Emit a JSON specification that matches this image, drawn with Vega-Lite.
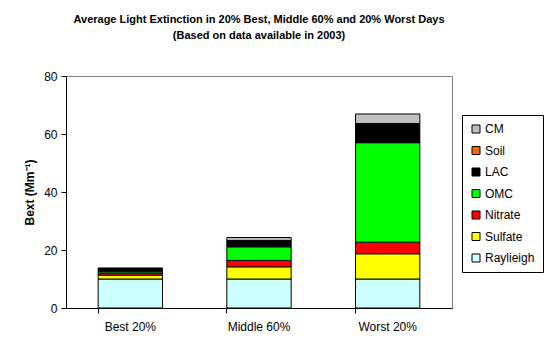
{
  "$schema": "https://vega.github.io/schema/vega-lite/v6.json",
  "width": 386,
  "height": 232,
  "autosize": {"type": "none"},
  "padding": {"left": 66, "top": 76, "right": 93, "bottom": 47},
  "background": "white",
  "title": {
    "text": ["Average Light Extinction in 20% Best, Middle 60% and 20% Worst Days", "(Based on data available in 2003)"],
    "font": "Liberation Sans",
    "fontSize": 11,
    "fontWeight": "bold",
    "color": "black",
    "lineHeight": 16,
    "anchor": "middle",
    "offset": 29
  },
  "data": {
    "values": [
      {"period": "Best 20%", "species": "Raylieigh", "ord": 1, "bext": 10},
      {"period": "Best 20%", "species": "Sulfate", "ord": 2, "bext": 1.3},
      {"period": "Best 20%", "species": "Nitrate", "ord": 3, "bext": 0.8},
      {"period": "Best 20%", "species": "OMC", "ord": 4, "bext": 0.6},
      {"period": "Best 20%", "species": "LAC", "ord": 5, "bext": 0.8},
      {"period": "Best 20%", "species": "Soil", "ord": 6, "bext": 0.1},
      {"period": "Best 20%", "species": "CM", "ord": 7, "bext": 0.2},
      {"period": "Middle 60%", "species": "Raylieigh", "ord": 1, "bext": 10},
      {"period": "Middle 60%", "species": "Sulfate", "ord": 2, "bext": 4.2},
      {"period": "Middle 60%", "species": "Nitrate", "ord": 3, "bext": 2.2},
      {"period": "Middle 60%", "species": "OMC", "ord": 4, "bext": 4.7},
      {"period": "Middle 60%", "species": "LAC", "ord": 5, "bext": 2.1},
      {"period": "Middle 60%", "species": "Soil", "ord": 6, "bext": 0.1},
      {"period": "Middle 60%", "species": "CM", "ord": 7, "bext": 1.0},
      {"period": "Worst 20%", "species": "Raylieigh", "ord": 1, "bext": 10},
      {"period": "Worst 20%", "species": "Sulfate", "ord": 2, "bext": 8.7},
      {"period": "Worst 20%", "species": "Nitrate", "ord": 3, "bext": 4.0},
      {"period": "Worst 20%", "species": "OMC", "ord": 4, "bext": 34.3},
      {"period": "Worst 20%", "species": "LAC", "ord": 5, "bext": 6.3},
      {"period": "Worst 20%", "species": "Soil", "ord": 6, "bext": 0.3},
      {"period": "Worst 20%", "species": "CM", "ord": 7, "bext": 3.3}
    ]
  },
  "mark": {"type": "bar", "stroke": "black", "strokeWidth": 1, "opacity": 1},
  "encoding": {
    "x": {
      "field": "period",
      "type": "nominal",
      "sort": ["Best 20%", "Middle 60%", "Worst 20%"],
      "scale": {"paddingInner": 0.5, "paddingOuter": 0.25},
      "axis": {
        "title": null,
        "labelAngle": 0,
        "bandPosition": 0,
        "labelFont": "Liberation Sans",
        "labelFontSize": 12,
        "labelColor": "black",
        "labelPadding": 8,
        "tickColor": "black",
        "tickSize": 5,
        "domainColor": "black",
        "grid": false
      }
    },
    "y": {
      "field": "bext",
      "type": "quantitative",
      "aggregate": "sum",
      "stack": "zero",
      "scale": {"domain": [0, 80], "nice": false},
      "axis": {
        "title": "Bext (Mm⁻¹)",
        "titleFont": "Liberation Sans",
        "titleFontSize": 12,
        "titleFontWeight": "bold",
        "titleColor": "black",
        "titlePadding": 7,
        "values": [0, 20, 40, 60, 80],
        "labelFont": "Liberation Sans",
        "labelFontSize": 12,
        "labelColor": "black",
        "labelPadding": 4,
        "tickColor": "black",
        "tickSize": 5,
        "domainColor": "black",
        "grid": false
      }
    },
    "color": {
      "field": "species",
      "type": "nominal",
      "scale": {
        "domain": ["CM", "Soil", "LAC", "OMC", "Nitrate", "Sulfate", "Raylieigh"],
        "range": ["#C0C0C0", "#FF6600", "#000000", "#00FF00", "#FF0000", "#FFFF00", "#CCFFFF"]
      },
      "legend": {
        "title": null,
        "orient": "none",
        "legendX": 396,
        "legendY": 39,
        "symbolType": "square",
        "symbolSize": 64,
        "symbolStrokeColor": "black",
        "symbolStrokeWidth": 1,
        "symbolOpacity": 1,
        "labelFont": "Liberation Sans",
        "labelFontSize": 12,
        "labelColor": "black",
        "labelOffset": 3,
        "rowPadding": 9.5,
        "padding": 8,
        "strokeColor": "black",
        "fillColor": "white"
      }
    },
    "order": {"field": "ord", "type": "quantitative", "sort": "ascending"}
  },
  "config": {
    "view": {"stroke": "#808080", "strokeWidth": 1},
    "axis": {"domainWidth": 1, "tickWidth": 1}
  }
}
